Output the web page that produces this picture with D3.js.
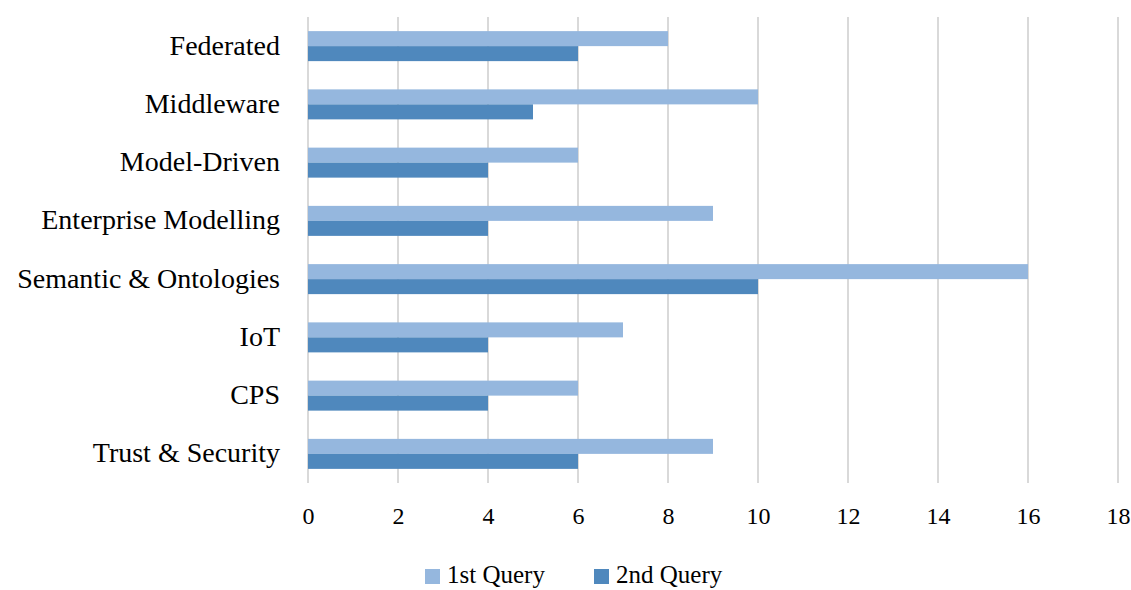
<!DOCTYPE html>
<html>
<head>
<meta charset="utf-8">
<script src="https://cdn.jsdelivr.net/npm/d3@7"></script>
<style>
  html, body { margin: 0; padding: 0; background: #fff; }
  svg text { font-family: "Liberation Serif", "DejaVu Serif", serif; fill: #000; }
</style>
</head>
<body>
<svg id="chart" width="1131" height="590"></svg>
<script>
// Topics and publication counts per query
const categories = ["Federated", "Middleware", "Model-Driven", "Enterprise Modelling",
                    "Semantic & Ontologies", "IoT", "CPS", "Trust & Security"];
const firstQuery  = [8, 10, 6, 9, 16, 7, 6, 9];
const secondQuery = [6, 5, 4, 4, 10, 4, 4, 6];
const seriesNames = ["1st Query", "2nd Query"];
const xTicks = [0, 2, 4, 6, 8, 10, 12, 14, 16, 18];

const colors = ["#95b7de", "#4f88bd"];

const svg = d3.select("#chart");
const margin = { left: 308, right: 13, top: 17, bottom: 107 };
const W = 1131, H = 590;

const x = d3.scaleLinear().domain([0, 18]).range([margin.left, W - margin.right]);
const y = d3.scaleBand().domain(categories).range([margin.top, H - margin.bottom])
  .paddingInner(0.485).paddingOuter(0.2425);
const inner = d3.scaleBand().domain(seriesNames).range([0, y.bandwidth()]);

// Vertical gridlines
svg.append("g")
  .selectAll("line")
  .data(xTicks)
  .join("line")
  .attr("x1", d => x(d)).attr("x2", d => x(d))
  .attr("y1", margin.top).attr("y2", H - margin.bottom)
  .attr("stroke", "#d9d9d9").attr("stroke-width", 2);

// Bars
const rows = categories.map((c, i) => ({ c, vals: [firstQuery[i], secondQuery[i]] }));
const g = svg.append("g");
rows.forEach(r => {
  r.vals.forEach((v, j) => {
    g.append("rect")
      .attr("x", x(0))
      .attr("y", y(r.c) + inner(seriesNames[j]))
      .attr("width", x(v) - x(0))
      .attr("height", inner.bandwidth())
      .attr("fill", colors[j]);
  });
});

// Category axis labels
const yAxis = d3.axisLeft(y).tickSize(0).tickPadding(28);
const ya = svg.append("g").attr("transform", `translate(${margin.left},0)`).call(yAxis);
ya.select(".domain").remove();
ya.selectAll("text").style("font-size", "28px").attr("dy", "0.3em");

// Value axis labels
const xAxis = d3.axisBottom(x).tickValues(xTicks).tickSize(0).tickPadding(24);
const xa = svg.append("g").attr("transform", `translate(0,${H - margin.bottom})`).call(xAxis);
xa.select(".domain").remove();
xa.selectAll("text").style("font-size", "24px");

// Legend
const legend = svg.append("g");
const legendItems = [{ name: seriesNames[0], x: 425 }, { name: seriesNames[1], x: 594 }];
legendItems.forEach((d, j) => {
  legend.append("rect").attr("x", d.x).attr("y", 569).attr("width", 15).attr("height", 15)
    .attr("fill", colors[j]);
  legend.append("text").attr("x", d.x + 22).attr("y", 583)
    .style("font-size", "25px").text(d.name);
});
</script>
</body>
</html>
